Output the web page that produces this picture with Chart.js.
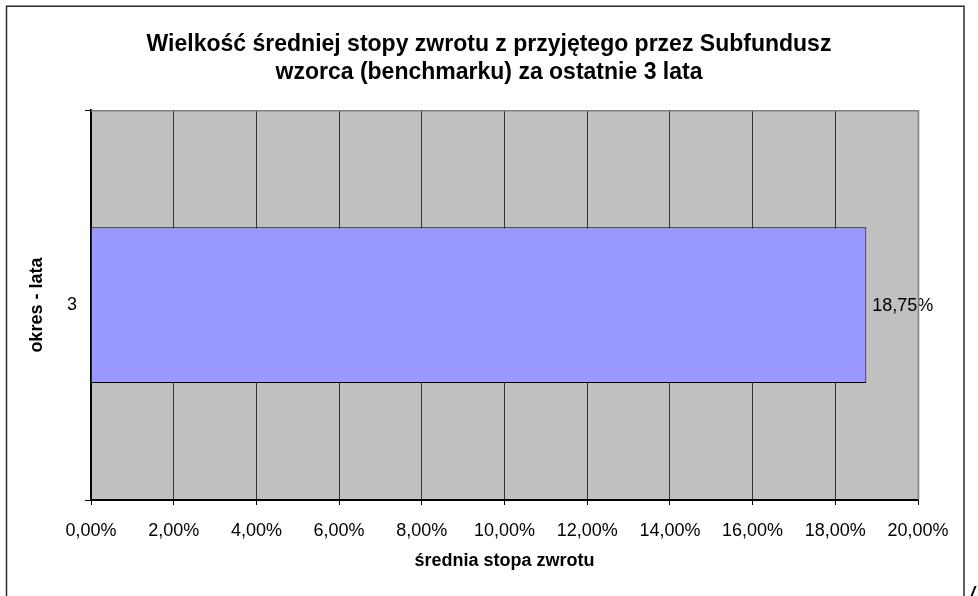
<!DOCTYPE html>
<html>
<head>
<meta charset="utf-8">
<script src="https://cdn.jsdelivr.net/npm/chart.js@4.4.1/dist/chart.umd.min.js"></script>
<style>
  html, body { margin: 0; padding: 0; background: #fff; }
  #chart { display: block; }
</style>
</head>
<body>
<canvas id="chart" width="978" height="596"></canvas>
<script>
// dane
const periods = ["3"];
const avgReturn = [0.1875];
const xTickMin = 0;
const xTickMax = 0.2;
const xTickStep = 0.02;

const titleLines = [
  "Wielkość średniej stopy zwrotu z przyjętego przez Subfundusz",
  "wzorca (benchmarku) za ostatnie 3 lata",
];
const xAxisTitle = "średnia stopa zwrotu";
const yAxisTitle = "okres - lata";

const FONT = "'Liberation Sans', Arial, sans-serif";

function formatPercent(value) {
  return (value * 100).toFixed(2).replace(".", ",") + "%";
}

const frameAndBackground = {
  id: "frameAndBackground",
  beforeDraw(chart) {
    const { ctx, chartArea } = chart;
    ctx.save();
    ctx.fillStyle = "#ffffff";
    ctx.fillRect(0, 0, chart.width, chart.height);
    ctx.strokeStyle = "#2b2b2b";
    ctx.lineWidth = 1.5;
    ctx.strokeRect(6.5, 6.25, 957.5, 700);
    ctx.fillStyle = "#c0c0c0";
    ctx.fillRect(
      chartArea.left,
      chartArea.top,
      chartArea.right - chartArea.left,
      chartArea.bottom - chartArea.top,
    );
    ctx.restore();
  },
  afterDraw(chart) {
    const { ctx, chartArea } = chart;
    ctx.save();
    ctx.strokeStyle = "#808080";
    ctx.lineWidth = 1.5;
    ctx.beginPath();
    ctx.moveTo(chartArea.left, chartArea.top + 0.5);
    ctx.lineTo(chartArea.right + 0.5, chartArea.top + 0.5);
    ctx.lineTo(chartArea.right + 0.5, chartArea.bottom);
    ctx.stroke();
    // fragment znaku w prawym dolnym rogu
    ctx.fillStyle = "#000";
    ctx.font = "italic bold 18px " + FONT;
    ctx.textBaseline = "top";
    ctx.textAlign = "left";
    ctx.fillText("/", 970, 585);
    ctx.restore();
  },
};

const valueLabels = {
  id: "valueLabels",
  afterDatasetsDraw(chart) {
    const { ctx } = chart;
    const meta = chart.getDatasetMeta(0);
    ctx.save();
    ctx.fillStyle = "#000";
    ctx.font = "18px " + FONT;
    ctx.textAlign = "left";
    ctx.textBaseline = "middle";
    meta.data.forEach((bar, i) => {
      ctx.fillText(formatPercent(avgReturn[i]), bar.x + 6, bar.y + 1);
    });
    ctx.restore();
  },
};

new Chart(document.getElementById("chart"), {
  type: "bar",
  data: {
    labels: periods,
    datasets: [
      {
        data: avgReturn,
        backgroundColor: "#9999ff",
        borderColor: "#000000",
        borderWidth: 1,
        categoryPercentage: 1,
        barPercentage: 0.4,
      },
    ],
  },
  options: {
    indexAxis: "y",
    responsive: false,
    animation: false,
    layout: { padding: 0 },
    plugins: {
      legend: { display: false },
      tooltip: { enabled: false },
      title: {
        display: true,
        text: titleLines,
        color: "#000",
        font: { family: FONT, size: 23, weight: "bold", lineHeight: 1.2 },
        padding: { top: 31, bottom: 24 },
      },
    },
    scales: {
      x: {
        type: "linear",
        min: xTickMin,
        max: xTickMax,
        afterFit(scale) {
          scale.height = 96;
        },
        ticks: {
          stepSize: xTickStep,
          color: "#000",
          padding: 15,
          font: { family: FONT, size: 18 },
          callback: (value) => formatPercent(value),
        },
        grid: {
          color: (c) => (c.index === 10 ? "#808080" : "#333333"),
          tickColor: "#000",
          tickLength: 5,
        },
        border: { color: "#000", width: 2 },
        title: {
          display: true,
          text: xAxisTitle,
          color: "#000",
          font: { family: FONT, size: 18, weight: "bold", lineHeight: 1.2 },
          padding: { top: 0, bottom: 24 },
        },
      },
      y: {
        type: "category",
        offset: true,
        afterFit(scale) {
          scale.width = 91;
        },
        ticks: {
          color: "#000",
          padding: 8,
          font: { family: FONT, size: 18 },
        },
        grid: {
          offset: true,
          drawOnChartArea: false,
          tickColor: "#000",
          tickLength: 6,
        },
        border: { color: "#000", width: 2 },
        title: {
          display: true,
          text: yAxisTitle,
          color: "#000",
          font: { family: FONT, size: 18, weight: "bold", lineHeight: 1.2 },
          padding: { top: 26, bottom: 0 },
        },
      },
      // pusty margines po prawej stronie obszaru wykresu
      spacer: {
        type: "linear",
        axis: "y",
        position: "right",
        display: true,
        afterFit(scale) {
          scale.width = 60;
        },
        ticks: { display: false },
        grid: { display: false },
        border: { display: false },
      },
    },
  },
  plugins: [frameAndBackground, valueLabels],
});
</script>
</body>
</html>
